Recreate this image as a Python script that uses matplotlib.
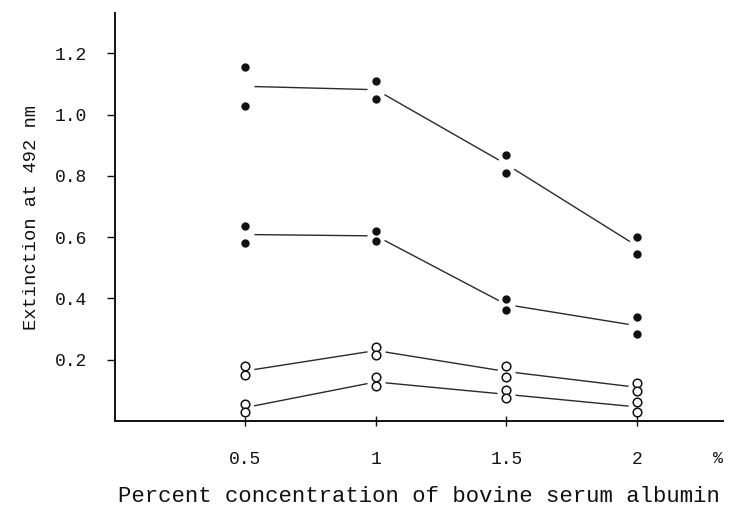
import matplotlib
matplotlib.use("Agg")
import matplotlib.pyplot as plt
import matplotlib.transforms as mtransforms
import numpy as np

# percent BSA and duplicate extinction readings per curve
conc = [0.5, 1.0, 1.5, 2.0]
a_hi = [1.155, 1.110, 0.867, 0.599]
a_lo = [1.029, 1.052, 0.808, 0.544]
b_hi = [0.635, 0.620, 0.397, 0.339]
b_lo = [0.582, 0.588, 0.363, 0.283]
c_hi = [0.178, 0.243, 0.178, 0.123]
c_lo = [0.149, 0.217, 0.145, 0.097]
d_hi = [0.057, 0.142, 0.100, 0.061]
d_lo = [0.031, 0.113, 0.074, 0.031]

y_ticks = [0.2, 0.4, 0.6, 0.8, 1.0, 1.2]
x_ticks = [0.5, 1, 1.5, 2]
x_tick_labels = ["0.5", "1", "1.5", "2"]

MONO = "Liberation Mono"
INK = "#111111"

fig = plt.figure(figsize=(7.35, 5.07), dpi=100)
ax = fig.add_axes([0.1565, 0.1696, 0.827, 0.804])

curves = [
    (a_hi, a_lo, True),
    (b_hi, b_lo, True),
    (c_hi, c_lo, False),
    (d_hi, d_lo, False),
]
for hi, lo, filled in curves:
    mean = (np.array(hi) + np.array(lo)) / 2
    ax.plot(conc, mean, color="#2a2a2a", lw=1.0, zorder=1)
    # white halo so the line stops short of the points
    ax.plot(conc, mean, ls="none", marker="o", ms=13, mfc="white", mec="none", zorder=2)
    pts = hi + lo
    xs = conc + conc
    if filled:
        ax.plot(xs, pts, ls="none", marker="o", ms=5, mfc=INK, mec=INK, zorder=3)
    else:
        ax.plot(xs, pts, ls="none", marker="o", ms=6.2, mfc="white", mec=INK, mew=1.1, zorder=3)

ax.set_xlim(0, 2.33)
ax.set_ylim(0, 1.33)
for side in ("top", "right"):
    ax.spines[side].set_visible(False)
for side in ("left", "bottom"):
    ax.spines[side].set_linewidth(1.4)
    ax.spines[side].set_color(INK)

ax.set_yticks(y_ticks)
ax.set_yticklabels([f"{v:.1f}" for v in y_ticks], fontfamily=MONO, fontsize=13)
ax.set_xticks(x_ticks)
ax.set_xticklabels(x_tick_labels, fontfamily=MONO, fontsize=13)
ax.tick_params(axis="y", direction="out", length=6, width=1.0, pad=14, colors=INK)
ax.tick_params(axis="x", direction="inout", length=7, width=1.0, pad=18, colors=INK)

trans = mtransforms.blended_transform_factory(ax.transData, ax.transAxes)
ax.text(2.31, -0.092, "%", transform=trans, ha="center", va="center",
        fontfamily=MONO, fontsize=12, color=INK)

ax.set_xlabel("Percent concentration of bovine serum albumin",
              fontfamily=MONO, fontsize=16, color=INK, labelpad=13)
ax.set_ylabel("Extinction at 492 nm", fontfamily=MONO, fontsize=13.5, color=INK, labelpad=11)

fig.savefig("out.png", dpi=100)
